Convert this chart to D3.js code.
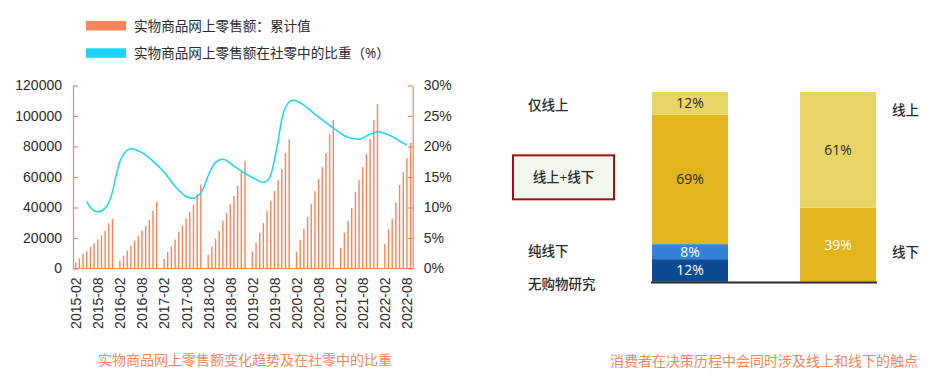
<!DOCTYPE html>
<html><head><meta charset="utf-8">
<script src="https://cdn.jsdelivr.net/npm/d3@7"></script>
<style>
html,body{margin:0;padding:0;background:#fff;}
svg{display:block;font-family:"Open Sans","Noto Sans CJK SC",sans-serif;}
</style></head>
<body>
<svg id="chart" width="939" height="383"></svg>
<script>
// ---------- Left chart data ----------
// Cumulative online retail sales of physical goods (亿元), Feb..Dec each year (Jan merged into Feb)
const sales2015 = [4100, 6700, 9600, 11300, 14300, 16500, 19100, 21700, 24800, 29600, 32600];
const sales2016 = [5200, 8500, 11700, 15000, 18300, 21500, 24800, 28000, 32000, 37800, 43700];
const sales2017 = [6300, 10700, 14300, 18900, 24100, 28000, 32800, 37200, 41700, 48900, 55000];
const sales2018 = [9100, 14300, 19600, 24600, 31300, 36500, 42400, 47600, 54100, 63300, 70400];
const sales2019 = [11100, 16800, 23300, 29800, 37800, 44300, 50900, 58000, 65200, 75700, 84800];
const sales2020 = [11100, 18900, 26100, 33900, 42200, 50700, 58700, 66500, 75700, 88000, 97400];
const sales2021 = [13700, 23500, 31300, 39800, 50200, 58000, 66500, 75000, 84800, 97400, 107800];
const sales2022 = [16100, 25700, 32600, 43300, 54800, 63300, 72400, 82400];
const salesYears = [2015, 2016, 2017, 2018, 2019, 2020, 2021, 2022];

// Share of physical online sales in total retail sales (%)
const shareMonths = ["2015-05","2015-06","2015-08","2015-10","2015-11","2015-12","2016-01","2016-02","2016-03","2016-05","2016-08","2016-11","2017-02","2017-05","2017-08","2017-10","2017-11","2017-12","2018-01","2018-02","2018-03","2018-04","2018-06","2018-09","2018-12","2019-03","2019-05","2019-06","2019-07","2019-08","2019-09","2019-10","2019-11","2019-12","2020-01","2020-04","2020-07","2020-10","2021-01","2021-04","2021-07","2021-10","2021-12","2022-03","2022-06","2022-08"];
const shareValues = [11.0, 10.0, 9.3, 9.9, 10.8, 12.6, 15.3, 17.5, 18.7, 19.65, 19.0, 17.6, 15.8, 13.5, 11.8, 11.5, 11.8, 12.4, 13.6, 15.2, 16.5, 17.4, 17.9, 16.8, 15.6, 14.6, 14.1, 14.4, 15.3, 17.8, 20.9, 24.5, 26.4, 27.3, 27.6, 26.8, 25.3, 23.9, 22.6, 21.5, 21.2, 22.0, 22.4, 21.9, 20.9, 20.2];

const xTickLabels = ["2015-02","2015-08","2016-02","2016-08","2017-02","2017-08","2018-02","2018-08","2019-02","2019-08","2020-02","2020-08","2021-02","2021-08","2022-02","2022-08"];
const leftTicks = [0, 20000, 40000, 60000, 80000, 100000, 120000];
const rightTicks = [0, 5, 10, 15, 20, 25, 30];
const legendLabels = ["实物商品网上零售额：累计值", "实物商品网上零售额在社零中的比重（%）"];
const leftCaption = "实物商品网上零售额变化趋势及在社零中的比重";

// ---------- Right chart data ----------
const bar1Labels = ["无购物研究", "纯线下", "线上+线下", "仅线上"];
const bar1Values = [12, 8, 69, 12];
const bar2Labels = ["线下", "线上"];
const bar2Values = [39, 61];
const rightCaption = "消费者在决策历程中会同时涉及线上和线下的触点";

// ---------- Drawing ----------
const svg = d3.select("#chart");
const ORANGE = "#f5865a";
const CYAN = "#1ad5f5";
const TEXT = "#2b2b2b";
const fmt = d3.timeFormat("%Y-%m");

const allMonths = d3.timeMonth.range(new Date(2015, 1, 1), new Date(2022, 9, 1)).map(fmt);
const x = d3.scalePoint().domain(allMonths).range([75.7, 410.6]);
const yL = d3.scaleLinear().domain([0, 120000]).range([268.5, 85.5]);
const yR = d3.scaleLinear().domain([0, 30]).range([268.5, 85.5]);

const bars = [];
salesYears.forEach((yr, k) => {
  const arr = [sales2015, sales2016, sales2017, sales2018, sales2019, sales2020, sales2021, sales2022][k];
  arr.forEach((v, m) => bars.push({month: yr + "-" + String(m + 2).padStart(2, "0"), value: v}));
});

// legend
const leg = svg.append("g");
[ORANGE, CYAN].forEach((c, i) => {
  leg.append("rect").attr("x", 86).attr("y", 21 + i * 27.3).attr("width", 40).attr("height", 9.5).attr("fill", c);
  leg.append("text").attr("x", 134).attr("y", 26 + i * 27.3).attr("dy", "0.35em")
    .attr("font-size", 13.6).attr("fill", TEXT).text(legendLabels[i]);
});

// bars
svg.append("g").selectAll("rect").data(bars).join("rect")
  .attr("x", d => x(d.month) - 0.7).attr("width", 1.4)
  .attr("y", d => yL(d.value)).attr("height", d => yL(0) - yL(d.value))
  .attr("fill", ORANGE);

// line
const line = d3.line().x((d, i) => x(shareMonths[i])).y(d => yR(d)).curve(d3.curveMonotoneX);
svg.append("path").attr("d", line(shareValues)).attr("fill", "none").attr("stroke", CYAN).attr("stroke-width", 1.5);

// axes
function styleAxis(g) {
  g.selectAll("path,line").attr("stroke", ORANGE).attr("stroke-width", 1.2);
  g.selectAll("text").attr("fill", TEXT).attr("font-size", 14);
}
const axL = svg.append("g").attr("transform", "translate(73,0)")
  .call(d3.axisLeft(yL).tickValues(leftTicks).tickFormat(d3.format("d")).tickSizeInner(-5).tickSizeOuter(0).tickPadding(11));
styleAxis(axL);
const axR = svg.append("g").attr("transform", "translate(412.7,0)")
  .call(d3.axisRight(yR).tickValues(rightTicks).tickFormat(d => d + "%").tickSizeInner(-5).tickSizeOuter(0).tickPadding(11));
styleAxis(axR);
const axB = svg.append("g").attr("transform", "translate(0,268.5)")
  .call(d3.axisBottom(x).tickValues(xTickLabels).tickSize(0).tickPadding(0));
axB.select(".domain").attr("d", "M73,0H412.7");
styleAxis(axB);
axB.selectAll("text").attr("transform", "rotate(-90)").attr("text-anchor", "end")
  .attr("x", -9).attr("y", 0).attr("dy", "0.35em");

svg.append("text").attr("x", 245).attr("y", 360).attr("dy", "0.35em").attr("text-anchor", "middle")
  .attr("font-size", 14).attr("fill", ORANGE).text(leftCaption);

// ---------- Right chart ----------
const xb = d3.scaleBand().domain(["决策历程", "触点"]).range([578, 950]).paddingInner(0.4865).paddingOuter(0.5);
const TOP = 92, BASE = 281.7;
function stackOf(vals) {
  const total = d3.sum(vals);
  const s = d3.scaleLinear().domain([0, total]).range([BASE, TOP]);
  let acc = 0;
  return {scale: s, segs: vals.map(v => { const o = {y0: acc, y1: acc + v, v}; acc += v; return o; })};
}
const s1 = stackOf(bar1Values);
const s2 = stackOf(bar2Values);
const col1 = ["#0c4b91", "#3381d8", "#e2b41e", "#e9d466"];
const txt1 = ["#fff", "#fff", TEXT, TEXT];
const col2 = ["#e2b41e", "#e9d466"];
const txt2 = ["#fff", TEXT];

function drawBar(key, st, cols, txts) {
  const g = svg.append("g");
  g.selectAll("rect").data(st.segs).join("rect")
    .attr("x", xb(key)).attr("width", xb.bandwidth())
    .attr("y", d => st.scale(d.y1)).attr("height", d => st.scale(d.y0) - st.scale(d.y1))
    .attr("fill", (d, i) => cols[i]);
  g.selectAll("text").data(st.segs).join("text")
    .attr("x", xb(key) + xb.bandwidth() / 2).attr("y", d => st.scale((d.y0 + d.y1) / 2))
    .attr("dy", "0.35em").attr("text-anchor", "middle").attr("font-size", 14)
    .attr("fill", (d, i) => txts[i]).text(d => d.v + "%");
}
drawBar("决策历程", s1, col1, txt1);
drawBar("触点", s2, col2, txt2);

svg.append("line").attr("x1", xb("决策历程") - 1).attr("x2", xb("触点") + xb.bandwidth() + 1)
  .attr("y1", BASE + 0.8).attr("y2", BASE + 0.8).attr("stroke", "#2b2b2b").attr("stroke-width", 2);

// left-side labels
const mid = d => s1.scale((s1.segs[d].y0 + s1.segs[d].y1) / 2);
const by = mid(2) - 2;
svg.append("rect").attr("x", 513).attr("y", by - 22).attr("width", 101).attr("height", 44)
  .attr("fill", "#f1f7ed").attr("stroke", "#a50e12").attr("stroke-width", 2);
const lbl = svg.append("g").attr("font-size", 13.5).attr("fill", TEXT).attr("font-weight", 500);
lbl.append("text").attr("x", 528).attr("y", mid(3) + 2).attr("dy", "0.35em").text(bar1Labels[3]);
lbl.append("text").attr("x", 528).attr("y", mid(1)).attr("dy", "0.35em").text(bar1Labels[1]);
lbl.append("text").attr("x", 528).attr("y", BASE + 3).attr("dy", "0.35em").text(bar1Labels[0]);
lbl.append("text").attr("x", 563.5).attr("y", by).attr("dy", "0.35em").attr("text-anchor", "middle").text(bar1Labels[2]);
// right-side labels
lbl.append("text").attr("x", 892).attr("y", mid(3) + 7).attr("dy", "0.35em").text(bar2Labels[1]);
lbl.append("text").attr("x", 892).attr("y", mid(1) + 1).attr("dy", "0.35em").text(bar2Labels[0]);

svg.append("text").attr("x", 764).attr("y", 361).attr("dy", "0.35em").attr("text-anchor", "middle")
  .attr("font-size", 14).attr("fill", ORANGE).text(rightCaption);
</script>
</body></html>
